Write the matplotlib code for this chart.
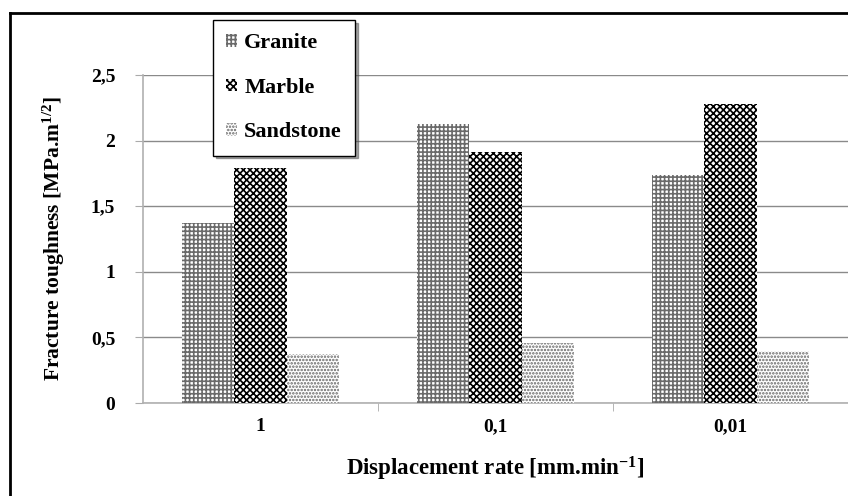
import numpy as np
import matplotlib.pyplot as plt
from matplotlib.lines import Line2D

# data
rates = ['1', '0,1', '0,01']
granite = [1.37, 2.13, 1.74]
marble = [1.79, 1.91, 2.28]
sandstone = [0.37, 0.46, 0.40]
yticks = [0, 0.5, 1, 1.5, 2, 2.5]
ytick_labels = ['0', '0,5', '1', '1,5', '2', '2,5']

plt.rcParams['font.family'] = ['Liberation Serif', 'DejaVu Serif']
plt.rcParams['font.weight'] = 'bold'
plt.rcParams['mathtext.fontset'] = 'custom'
plt.rcParams['mathtext.rm'] = 'Liberation Serif:bold'
plt.rcParams['mathtext.bf'] = 'Liberation Serif:bold'
plt.rcParams['mathtext.default'] = 'bf'
plt.rcParams['hatch.linewidth'] = 1.2

W, H = 848, 496
fig = plt.figure(figsize=(W/100, H/100), dpi=100)
ax = fig.add_axes([143/W, (H-403)/H, (W-143)/W, 328/H])

x = np.arange(len(rates))
bw = 0.2213
b1 = ax.bar(x-bw, granite, bw, color='white', edgecolor='#6a6a6a', hatch='++++', linewidth=0, label='Granite', zorder=3)
b2 = ax.bar(x, marble, bw, color='white', edgecolor='black', hatch='XXXXX', linewidth=0, label='Marble', zorder=3)
b3 = ax.bar(x+bw, sandstone, bw, color='white', edgecolor='#666666', hatch='.....', linewidth=0, label='Sandstone', zorder=3)

ax.set_xlim(-0.5, 2.5)
ax.set_ylim(0, 2.5)
ax.set_yticks(yticks)
ax.set_yticklabels(ytick_labels, fontsize=14, fontweight='bold')
ax.set_xticks(x)
ax.set_xticklabels(rates, fontsize=14, fontweight='bold')
ax.set_xticks([0.5, 1.5], minor=True)
ax.tick_params(axis='x', which='major', length=0, pad=11)
ax.tick_params(axis='x', which='minor', length=6, color='#aaaaaa', direction='out')
ax.tick_params(axis='y', length=6, color='#aaaaaa', direction='out', pad=14)
ax.grid(axis='y', color='#8a8a8a', linewidth=1, zorder=0)
ax.set_axisbelow(True)
for s in ['top', 'right']:
    ax.spines[s].set_visible(False)
for s in ['left', 'bottom']:
    ax.spines[s].set_color('#b0b0b0')
    ax.spines[s].set_linewidth(1.2)

ax.set_ylabel('Fracture toughness [MPa.m$^{1/2}$]', fontsize=15.5, fontweight='bold', labelpad=17)
ax.set_xlabel('Displacement rate [mm.min$^{-1}$]', fontsize=16.5, fontweight='bold', labelpad=14)

leg = fig.legend(handles=[b1, b2, b3], loc='upper left', bbox_to_anchor=(213/W, 1-20/H),
                 frameon=True, fancybox=False, shadow=True, edgecolor='black',
                 prop={'family': 'Liberation Serif', 'weight': 'bold', 'size': 16},
                 handlelength=0.5, handleheight=0.5, handletextpad=0.3,
                 labelspacing=1.1, borderpad=0.6, borderaxespad=0)
leg.get_frame().set_linewidth(1.0)

# outer frame of the figure
fig.add_artist(Line2D([9.5/W, 1], [1-12.5/H, 1-12.5/H], color='black', linewidth=2, transform=fig.transFigure))
fig.add_artist(Line2D([9.5/W, 9.5/W], [0, 1-12.5/H], color='black', linewidth=2, transform=fig.transFigure))

fig.savefig('out.png', dpi=100)
